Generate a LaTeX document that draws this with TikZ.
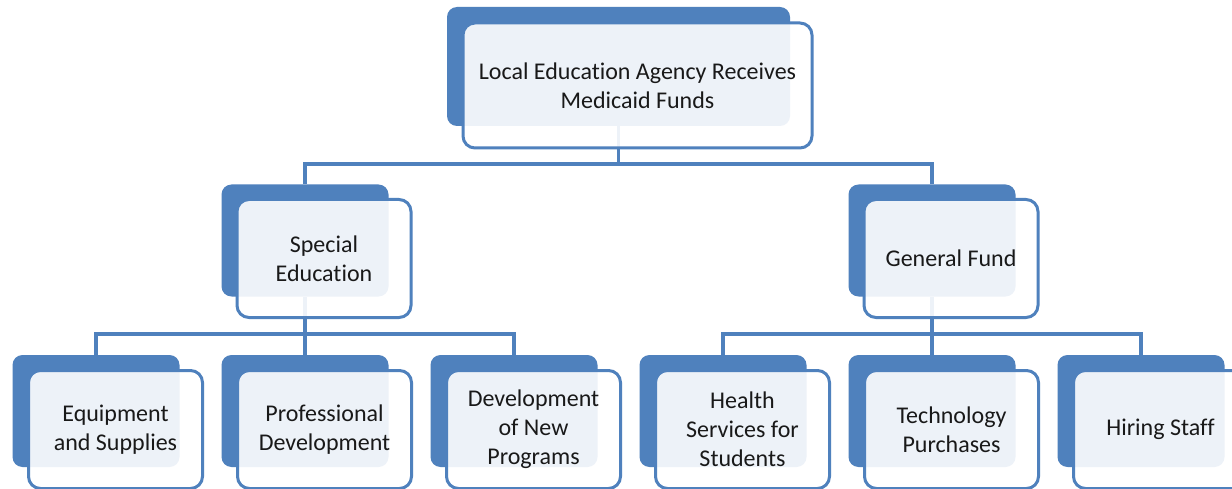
\documentclass[tikz,border=0pt]{standalone}
\usepackage{fontspec}
\setmainfont{Carlito}[Ligatures=CommonOff]
\definecolor{orgblue}{HTML}{4F81BD}
\begin{document}
\begin{tikzpicture}[x=1pt,y=-1pt]
    \tikzset{
      backbox/.style={rectangle, rounded corners=10pt, fill=orgblue,
                      minimum width=167pt, minimum height=112pt, inner sep=0pt},
      frontbox/.style={rectangle, rounded corners=12pt, draw=orgblue,
                       line width=3pt, fill=white, fill opacity=0.9,
                       text opacity=1, minimum width=174pt,
                       minimum height=118pt, inner sep=0pt, align=center,
                       text=black!90, font=\fontsize{24}{29}\selectfont},
      link/.style={draw=orgblue, line width=3.2pt}
    }

    \path[use as bounding box, fill=white] (0,0) rectangle (1232,489);
    \clip (0,0) rectangle (1232,489);

    % Back boxes
    \node[backbox, minimum width=343pt, minimum height=119pt] (leaB)
      at (618.5,66.5) {};
    \node[backbox] (speB) at (305,240.5) {};
    \node[backbox] (genB) at (932,240.5) {};
    \node[backbox] (eqpB) at (96,411) {};
    \node[backbox] (proB) at (305,411) {};
    \node[backbox] (devB) at (514,411) {};
    \node[backbox] (heaB) at (723,411) {};
    \node[backbox] (tecB) at (932,411) {};
    \node[backbox] (hirB) at (1141,411) {};

    % Connectors
    \coordinate (busTop) at (618.5,164);
    \coordinate (busSpe) at (305,334);
    \coordinate (busGen) at (932,334);
    \draw[link] (leaB.south) -- (busTop) -| (speB.north);
    \draw[link] (busTop) -| (genB.north);
    \draw[link] (speB.south) -- (busSpe) -| (eqpB.north);
    \draw[link] (busSpe) -| (devB.north);
    \draw[link] (busSpe) -- (proB.north);
    \draw[link] (genB.south) -- (busGen) -| (heaB.north);
    \draw[link] (busGen) -| (hirB.north);
    \draw[link] (busGen) -- (tecB.north);

    % Front boxes
    \node[frontbox, minimum width=349pt, minimum height=125pt] (lea)
      at (637.5,85.5) {Local Education Agency Receives\\Medicaid Funds};
    \node[frontbox] (spe) at (324,258.5) {Special\\Education};
    \node[frontbox] (gen) at (951,258.5) {General Fund};
    \node[frontbox] (eqp) at (115.5,429.5) {Equipment\\and Supplies};
    \node[frontbox] (pro) at (324.5,429.5) {Professional\\Development};
    \node[frontbox] (dev) at (533.5,429.5) {Development\\of New\\Programs};
    \node[frontbox] (hea) at (742.5,429.5) {Health\\Services for\\Students};
    \node[frontbox] (tec) at (951.5,429.5) {Technology\\Purchases};
    \node[frontbox] (hir) at (1160.5,429.5) {Hiring Staff};
  \end{tikzpicture}
\end{document}
